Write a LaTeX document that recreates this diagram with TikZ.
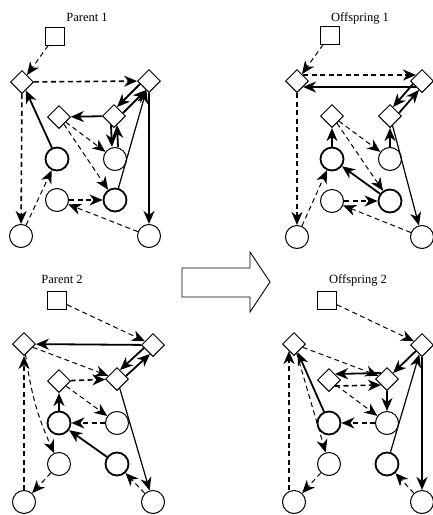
\documentclass[tikz,border=0pt]{standalone}
\usepackage{fontspec}
\setmainfont{Liberation Serif}
\usetikzlibrary{arrows.meta,shapes.geometric,calc}

\tikzset{
  dnode/.style={draw, shape=diamond, aspect=1, minimum size=23pt, inner sep=0pt, line width=1pt},
  snode/.style={draw, rectangle, minimum width=19pt, minimum height=18pt, inner sep=0pt, line width=1pt},
  cnode/.style={draw, circle, minimum size=23pt, inner sep=0pt, line width=1pt},
  cbold/.style={cnode, line width=1.8pt},
  tip/.style={-{Stealth[length=13pt,width=11pt,inset=4pt]}},
  dthin/.style={tip, line width=1pt, dash pattern=on 5pt off 3.5pt},
  dthick/.style={tip, line width=1.6pt, dash pattern=on 5pt off 3.5pt},
  sthin/.style={tip, line width=1.2pt},
  smed/.style={tip, line width=1.8pt},
  sthick/.style={tip, line width=2.8pt},
  title/.style={font=\fontsize{12.5}{14}\selectfont, inner sep=0pt, anchor=base},
}

\begin{document}
\begin{tikzpicture}[x=1pt, y=-1pt]
\useasboundingbox (0,0) rectangle (433,515);

% ---------------- Parent 1 ----------------
\node[title] (p1t) at (87,21) {Parent 1};
\node[snode] (p1s) at (55,36) {};
\node[dnode] (p1d1) at (22,82) {};
\node[dnode] (p1d2) at (149,81) {};
\node[dnode] (p1d3) at (59,117) {};
\node[dnode] (p1d4) at (114,116) {};
\node[cbold] (p1c1) at (57,159) {};
\node[cnode] (p1c2) at (115,159) {};
\node[cnode] (p1c3) at (57,200) {};
\node[cbold] (p1c4) at (115,200) {};
\node[cnode] (p1c5) at (21,236) {};
\node[cnode] (p1c6) at (149,236) {};

\draw[dthin] (p1s) -- (p1d1);
\draw[dthick] (p1d1) -- (p1d2);
\draw[dthick] (p1d1) -- (p1c5);
\draw[smed] (p1c1) -- (p1d1);
\draw[smed] (p1d4) -- (p1d3);
\draw[smed] ([shift={(-3,-3)}]p1d2.south west) -- ([shift={(-3,-3)}]p1d4.north east);
\draw[smed] ([shift={(3,3)}]p1d4.north east) -- ([shift={(3,3)}]p1d2.south west);
\draw[smed] ([shift={(-3,-3)}]p1d4.south) -- ([xshift=-3pt]p1c2.north);
\draw[smed] ([xshift=3pt]p1c2.north) -- ([shift={(3,-3)}]p1d4.south);
\draw[dthin] (p1d3) -- (p1c2);
\draw[dthin] (p1d3) -- (p1c4);
\draw[dthick] (p1c3) -- (p1c4);
\draw[dthin] (p1c6) -- (p1c3);
\draw[dthin] (p1c5) -- (p1c1);
\draw[sthick] (p1d2) -- (p1c6);
\draw[sthin] (p1c4) -- (p1d2);

% ---------------- Offspring 1 ----------------
\node[title] (o1t) at (360,21) {Offspring 1};
\node[snode] (o1s) at (330,35) {};
\node[dnode] (o1d1) at (297,81) {};
\node[dnode] (o1d2) at (422,81) {};
\node[dnode] (o1d3) at (332,116) {};
\node[dnode] (o1d4) at (390,116) {};
\node[cbold] (o1c1) at (332,159) {};
\node[cnode] (o1c2) at (390,159) {};
\node[cnode] (o1c3) at (332,201) {};
\node[cbold] (o1c4) at (390,201) {};
\node[cnode] (o1c5) at (297,237) {};
\node[cnode] (o1c6) at (422,237) {};

\draw[dthin] (o1s) -- (o1d1);
\draw[dthick] (o1d1.north east) -- (o1d2.north west);
\draw[smed] (o1d2.south west) -- (o1d1.south east);
\draw[dthick] (o1d1) -- (o1c5);
\draw[smed] ([shift={(-3,-3)}]o1d2.south west) -- ([shift={(-3,-3)}]o1d4.north east);
\draw[smed] ([shift={(3,3)}]o1d4.north east) -- ([shift={(3,3)}]o1d2.south west);
\draw[sthin] (o1d4) -- (o1c6);
\draw[smed] (o1c2) -- (o1d4);
\draw[smed] (o1c1) -- (o1d3);
\draw[dthin] (o1d3) -- (o1c2);
\draw[dthin] (o1d3) -- (o1c4);
\draw[smed] (o1c4) -- (o1c1);
\draw[dthick] (o1c3) -- (o1c4);
\draw[dthin] (o1c6) -- (o1c3);
\draw[dthin] (o1c5) -- (o1c1);

% ---------------- Parent 2 ----------------
\node[title] (p2t) at (62,283) {Parent 2};
\node[snode] (p2s) at (57,300) {};
\node[dnode] (p2d1) at (24,344) {};
\node[dnode] (p2d2) at (153,345) {};
\node[dnode] (p2d3) at (59,381) {};
\node[dnode] (p2d4) at (117,379) {};
\node[cbold] (p2c1) at (59,423) {};
\node[cnode] (p2c2) at (117,423) {};
\node[cnode] (p2c3) at (59,464) {};
\node[cbold] (p2c4) at (117,464) {};
\node[cnode] (p2c5) at (24,502) {};
\node[cnode] (p2c6) at (153,502) {};

\draw[dthin] (p2s) -- (p2d2);
\draw[smed] (p2d2) -- (p2d1);
\draw[dthin] (p2d1) -- (p2d4);
\draw[smed] ([shift={(-3,-3)}]p2d2.south west) -- ([shift={(-3,-3)}]p2d4.north east);
\draw[smed] ([shift={(3,3)}]p2d4.north east) -- ([shift={(3,3)}]p2d2.south west);
\draw[dthick] (p2d3) -- (p2d4);
\draw[smed] (p2c1) -- (p2d3);
\draw[dthin] (p2d3) -- (p2c2);
\draw[dthick] (p2c2) -- (p2c1);
\draw[smed] (p2c4) -- (p2c1);
\draw[sthin] (p2d4) -- (p2c6);
\draw[dthin] (p2c6) -- (p2c4);
\draw[dthin] (p2d1) to[bend right=8] (p2c3);
\draw[dthick] (p2c5) -- (p2d1);
\draw[dthin] (p2c3) -- (p2c5);

% ---------------- Offspring 2 ----------------
\node[title] (o2t) at (358,283) {Offspring 2};
\node[snode] (o2s) at (327,300) {};
\node[dnode] (o2d1) at (294,344) {};
\node[dnode] (o2d2) at (422,345) {};
\node[dnode] (o2d3) at (329,380) {};
\node[dnode] (o2d4) at (387,379) {};
\node[cbold] (o2c1) at (329,423) {};
\node[cnode] (o2c2) at (387,423) {};
\node[cnode] (o2c3) at (329,464) {};
\node[cbold] (o2c4) at (387,464) {};
\node[cnode] (o2c5) at (294,502) {};
\node[cnode] (o2c6) at (422,502) {};

\draw[dthin] (o2s) -- (o2d2);
\draw[dthin] (o2d1) -- (o2d4);
\draw[smed] (o2d2) -- (o2d4);
\draw[smed] (o2d4.north west) -- (o2d3.north east);
\draw[dthick] (o2d3.south east) -- (o2d4.south west);
\draw[smed] (o2d4) -- (o2c2);
\draw[dthin] (o2d3) -- (o2c2);
\draw[dthick] (o2c2) -- (o2c1);
\draw[smed] (o2c1) -- (o2d1);
\draw[dthick] ([xshift=-5pt]o2c5.north) -- ([shift={(-5,-5)}]o2d1.south);
\draw[dthin] (o2d1) -- (o2c3);
\draw[dthin] (o2c3) -- (o2c5);
\draw[sthin] (o2c4) -- (o2d2);
\draw[sthick] (o2d2) -- (o2c6);
\draw[dthin] (o2c6) -- (o2c4);

% ---------------- crossover arrow ----------------
\draw[line width=0.9pt] (182,268) -- (250,268) -- (250,252) -- (270,282)
  -- (250,312) -- (250,297) -- (182,297) -- cycle;
\end{tikzpicture}
\end{document}
